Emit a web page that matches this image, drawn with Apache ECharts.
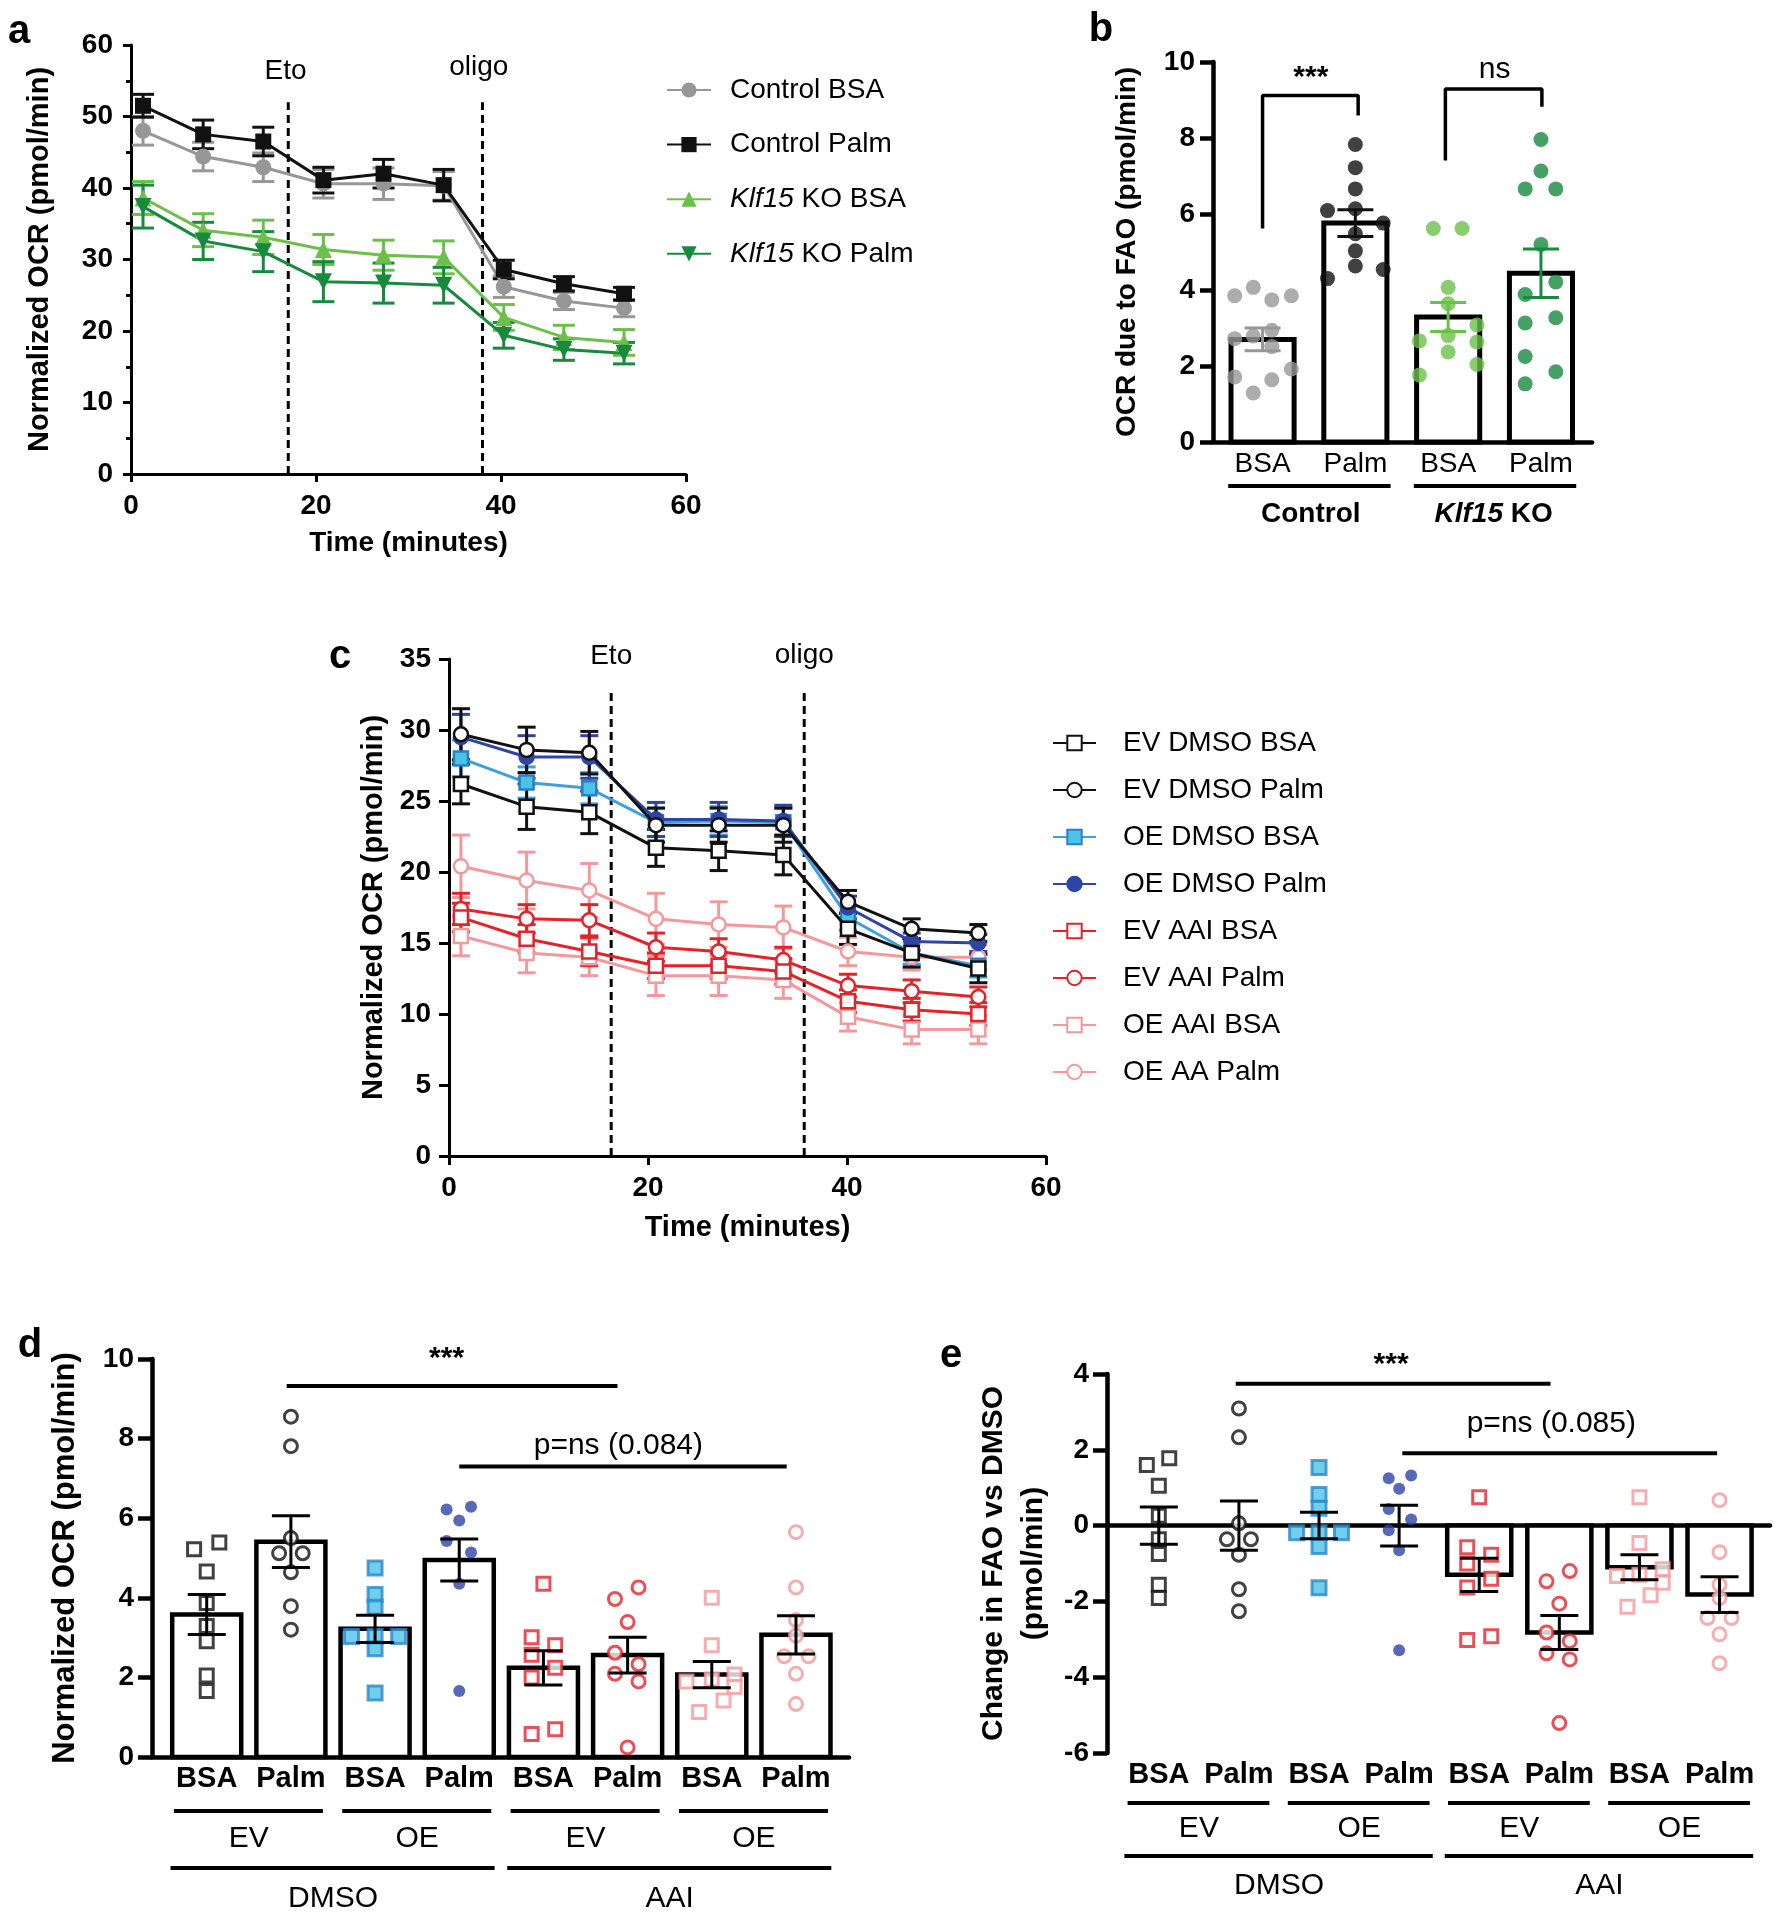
<!DOCTYPE html>
<html>
<head>
<meta charset="utf-8">
<script src="https://cdn.jsdelivr.net/npm/echarts@6/dist/echarts.min.js"></script>
<style>
  html, body { margin: 0; padding: 0; background: #fff; }
  #chart { width: 1779px; height: 1920px; }
</style>
</head>
<body>
<div id="chart"></div>
<script>
const FONT = '"Liberation Sans", Arial, Helvetica, sans-serif';

// ---------- panel a : time course ----------
const timeA = [1.3, 7.8, 14.3, 20.8, 27.3, 33.8, 40.3, 46.8, 53.3];
const aNames = ['Control BSA', 'Control Palm', 'Klf15 KO BSA', 'Klf15 KO Palm'];
const aCtrlBSA = [48.0, 44.4, 42.9, 40.6, 40.6, 40.3, 26.2, 24.2, 23.2];
const aCtrlBSAErr = [2.0, 2.0, 2.0, 2.0, 2.2, 2.0, 1.5, 1.2, 1.2];
const aCtrlPalm = [51.5, 47.5, 46.5, 41.1, 42.0, 40.4, 28.6, 26.6, 25.2];
const aCtrlPalmErr = [1.6, 2.0, 2.0, 1.8, 2.0, 2.2, 1.3, 1.0, 0.9];
const aKoBSA = [38.6, 34.1, 33.1, 31.4, 30.6, 30.3, 21.9, 19.1, 18.4];
const aKoBSAErr = [2.3, 2.3, 2.4, 2.1, 2.1, 2.3, 1.8, 1.7, 1.8];
const aKoPalm = [37.4, 32.6, 31.1, 26.9, 26.7, 26.4, 19.4, 17.4, 16.9];
const aKoPalmErr = [3.0, 2.6, 2.8, 2.8, 2.8, 2.5, 1.8, 1.5, 1.5];
const aEto = 17, aOligo = 38;

// ---------- panel b : OCR due to FAO ----------
const bCats = ['BSA', 'Palm', 'BSA', 'Palm'];
const bGroups = ['Control', 'Klf15 KO'];
const bMeans = [2.70, 5.76, 3.29, 4.44];
const bSem = [0.30, 0.35, 0.38, 0.64];
const bCtrlBSA = [3.85, 4.07, 3.74, 3.85, 2.72, 2.79, 2.94, 2.51, 1.92, 1.71, 1.64, 1.29];
const bCtrlBSAJit = [-0.30, -0.10, 0.10, 0.31, -0.30, -0.10, 0.10, 0.10, 0.31, -0.30, 0.10, -0.10];
const bCtrlPalm = [7.83, 7.22, 6.66, 6.09, 6.14, 5.76, 5.48, 5.03, 4.30, 4.63, 4.54];
const bCtrlPalmJit = [0, 0, 0, -0.30, 0, 0.30, 0, 0, -0.30, 0, 0.30];
const bKoBSA = [5.62, 5.62, 4.07, 3.64, 2.66, 2.80, 3.08, 2.63, 2.37, 2.04, 1.76];
const bKoBSAJit = [-0.16, 0.15, 0, 0, -0.31, 0, 0.31, 0.31, 0, 0.31, -0.31];
const bKoPalm = [7.96, 7.13, 6.66, 6.66, 5.20, 4.21, 3.88, 3.27, 3.13, 2.25, 1.85, 1.53];
const bKoPalmJit = [0, 0, -0.17, 0.16, 0, 0.16, -0.17, 0.16, -0.17, -0.17, 0.16, -0.17];

// ---------- panel c : time course ----------
const timeC = [1.2, 7.8, 14.1, 20.8, 27.1, 33.6, 40.1, 46.5, 53.2];
const cNames = ['EV DMSO BSA', 'EV DMSO Palm', 'OE DMSO BSA', 'OE DMSO Palm',
                'EV AAI BSA', 'EV AAI Palm', 'OE AAI BSA', 'OE AA Palm'];
const cEvDmsoBSA = [26.2, 24.6, 24.2, 21.7, 21.5, 21.2, 16.0, 14.3, 13.2];
const cEvDmsoBSAErr = [1.4, 1.6, 1.5, 1.3, 1.4, 1.4, 1.1, 1.0, 1.0];
const cEvDmsoPalm = [29.7, 28.6, 28.4, 23.3, 23.3, 23.3, 17.9, 16.0, 15.7];
const cEvDmsoPalmErr = [1.8, 1.6, 1.5, 1.2, 1.2, 1.2, 0.8, 0.7, 0.6];
const cOeDmsoBSA = [28.0, 26.3, 25.9, 23.5, 23.6, 23.5, 16.8, 14.3, 13.4];
const cOeDmsoBSAErr = [1.3, 1.1, 1.1, 1.0, 1.0, 1.0, 0.9, 0.8, 0.8];
const cOeDmsoPalm = [29.5, 28.1, 28.1, 23.7, 23.7, 23.6, 17.5, 15.1, 15.0];
const cOeDmsoPalmErr = [1.6, 1.5, 1.5, 1.2, 1.2, 1.1, 0.8, 0.6, 0.6];
const cEvAaiBSA = [16.8, 15.3, 14.4, 13.4, 13.4, 13.0, 10.9, 10.3, 10.0];
const cEvAaiBSAErr = [1.0, 1.0, 1.0, 0.9, 0.9, 0.9, 0.8, 0.8, 0.8];
const cEvAaiPalm = [17.4, 16.7, 16.6, 14.7, 14.4, 13.8, 12.0, 11.6, 11.2];
const cEvAaiPalmErr = [1.1, 1.0, 1.1, 1.0, 0.9, 0.9, 0.8, 0.8, 0.7];
const cOeAaiBSA = [15.5, 14.3, 14.0, 12.7, 12.7, 12.4, 9.8, 8.9, 8.9];
const cOeAaiBSAErr = [1.4, 1.4, 1.3, 1.4, 1.4, 1.3, 1.0, 1.0, 1.0];
const cOeAaPalm = [20.4, 19.4, 18.7, 16.7, 16.3, 16.1, 14.4, 14.0, 14.0];
const cOeAaPalmErr = [2.2, 2.0, 1.9, 1.8, 1.6, 1.5, 1.0, 0.9, 0.9];
const cEto = 16.3, cOligo = 35.7;

// ---------- panels d, e : bar + dots ----------
const deCats = ['BSA', 'Palm', 'BSA', 'Palm', 'BSA', 'Palm', 'BSA', 'Palm'];
const deSub = ['EV', 'OE', 'EV', 'OE'];
const deTop = ['DMSO', 'AAI'];

const dMeans = [3.58, 5.41, 3.22, 4.95, 2.24, 2.56, 2.07, 3.07];
const dSem = [0.50, 0.65, 0.34, 0.53, 0.43, 0.45, 0.33, 0.48];
const dPts = [
  [5.22, 5.39, 4.66, 3.87, 3.29, 2.91, 2.05, 1.66],
  [8.55, 7.81, 5.12, 5.12, 5.50, 4.64, 3.79, 3.20],
  [4.75, 4.08, 3.76, 3.03, 3.03, 3.03, 2.72, 1.61],
  [6.22, 6.29, 5.94, 5.43, 5.14, 4.35, 1.66],
  [4.35, 3.01, 2.81, 2.57, 2.24, 2.00, 0.70, 0.58],
  [3.97, 4.26, 3.39, 2.62, 2.09, 2.33, 1.90, 0.24],
  [4.00, 2.81, 1.95, 1.90, 2.07, 1.76, 1.42, 1.13],
  [5.65, 4.26, 3.44, 3.05, 2.53, 2.53, 2.09, 1.33]
];
const dJit = [
  [-0.15, 0.15, 0, 0, 0, 0, 0, 0],
  [0, 0, -0.14, 0.14, 0, 0, 0, 0],
  [0, 0, 0, -0.28, 0, 0.28, 0, 0],
  [-0.15, 0.14, 0, -0.15, 0.14, 0, 0],
  [0, -0.14, 0.14, -0.14, 0.14, -0.14, 0.14, -0.14],
  [-0.15, 0.13, 0, -0.15, -0.15, 0.13, 0.13, 0],
  [0, 0, 0, -0.30, 0.27, 0.27, 0.14, -0.15],
  [0, 0, 0, 0, -0.14, 0.15, 0, 0]
];

const eMeans = [0, 0, 0, 0, -1.30, -2.82, -1.10, -1.82];
const eSem = [0.49, 0.65, 0.35, 0.54, 0.44, 0.45, 0.33, 0.47];
const ePts = [
  [1.60, 1.78, 1.05, 0.26, -0.36, -0.75, -1.56, -1.91],
  [3.09, 2.33, 0.06, -0.36, -0.36, -0.77, -1.68, -2.26],
  [1.53, 0.82, 0.46, -0.19, -0.19, -0.19, -0.55, -1.64],
  [1.25, 1.32, 0.97, 0.44, 0.16, -0.12, -0.65, -3.29],
  [0.75, -0.57, -0.77, -1.00, -1.40, -1.63, -3.02, -2.92],
  [-1.47, -1.20, -2.06, -2.82, -3.05, -3.37, -3.53, -5.21],
  [0.75, -0.46, -1.33, -1.30, -1.15, -1.51, -1.84, -2.14],
  [0.67, -0.70, -1.56, -1.91, -2.44, -2.44, -2.87, -3.63]
];
const eJit = [
  [-0.15, 0.13, 0, 0, 0, 0, 0, 0],
  [0, 0, 0, -0.15, 0.15, 0, 0, 0],
  [0, 0, 0, -0.28, 0, 0.28, 0, 0],
  [-0.13, 0.15, 0, -0.13, 0.15, -0.13, 0, 0],
  [0, -0.15, 0.15, -0.15, 0.15, -0.15, -0.15, 0.15],
  [-0.16, 0.13, 0, -0.16, 0.13, -0.16, 0.13, 0],
  [0, 0, -0.28, 0, 0.29, 0.29, 0.14, -0.15],
  [0, 0, 0, 0, -0.15, 0.15, 0, 0]
];

// colours
const GREY = '#979797', BLACK = '#111111', LGREEN = '#6cc04a', DGREEN = '#178a3e';
const LBLUE = '#3d9fdc', LBLUE_FILL = '#4cc3e6', DBLUE = '#2e44a6', RED = '#e3232b', PINK = '#f4999b';

const chart = echarts.init(document.getElementById('chart'));

function axis(gi, o, tickLen, lineW, titleSize) {
  const base = {
    gridIndex: gi, type: 'value',
    axisLine: { show: true, onZero: false, lineStyle: { color: '#000', width: lineW || 3 } },
    axisTick: { show: true, length: tickLen || 8, lineStyle: { color: '#000', width: lineW || 3 } },
    axisLabel: { show: true, color: '#000', fontFamily: FONT, fontSize: 28, fontWeight: 'bold', margin: 18 },
    splitLine: { show: false },
    nameLocation: 'middle',
    nameTextStyle: { color: '#000', fontFamily: FONT, fontSize: titleSize || 28, fontWeight: 'bold' }
  };
  return Object.assign(base, o);
}
const noTicks = { show: false };

function errSeries(gi, xs, means, errs, color, cap, lw, z) {
  return {
    type: 'custom', xAxisIndex: gi, yAxisIndex: gi, z: z || 5, silent: true,
    encode: { x: 0, y: 1 },
    data: xs.map((x, i) => [x, means[i], errs[i]]),
    renderItem(params, api) {
      const x = api.value(0), m = api.value(1), e = api.value(2);
      const t = api.coord([x, m + e]), b = api.coord([x, m - e]);
      const h = cap / 2;
      const st = { stroke: color, lineWidth: lw };
      return { type: 'group', children: [
        { type: 'line', shape: { x1: t[0], y1: t[1], x2: b[0], y2: b[1] }, style: st },
        { type: 'line', shape: { x1: t[0] - h, y1: t[1], x2: t[0] + h, y2: t[1] }, style: st },
        { type: 'line', shape: { x1: b[0] - h, y1: b[1], x2: b[0] + h, y2: b[1] }, style: st }
      ] };
    }
  };
}

function barSeries(gi, means, wUnits, lw) {
  return {
    type: 'custom', xAxisIndex: gi, yAxisIndex: gi, z: 2, silent: true,
    encode: { x: 0, y: 1 },
    data: means.map((m, i) => [i, m]),
    renderItem(params, api) {
      const x = api.value(0), v = api.value(1);
      if (v === 0) return null;
      const p0 = api.coord([x - wUnits / 2, 0]);
      const p1 = api.coord([x + wUnits / 2, v]);
      return { type: 'rect',
        shape: { x: p0[0], y: Math.min(p0[1], p1[1]), width: p1[0] - p0[0], height: Math.abs(p1[1] - p0[1]) },
        style: { fill: '#fff', stroke: '#000', lineWidth: lw } };
    }
  };
}

function textSeries(gi, items, style) {
  return {
    type: 'custom', xAxisIndex: gi, yAxisIndex: gi, z: 6, silent: true, clip: false,
    encode: { x: 0, y: 1 },
    data: items.map(it => [it.x, it.y]),
    renderItem(params, api) {
      const p = api.coord([api.value(0), api.value(1)]);
      const it = items[params.dataIndex];
      return { type: 'text', x: p[0], y: p[1],
        style: Object.assign({ text: it.text, align: 'center', verticalAlign: it.va || 'middle',
          fill: '#000', fontFamily: FONT, fontSize: 28, fontWeight: it.bold ? 'bold' : 'normal' }, style) };
    }
  };
}

function pathSeries(gi, pts, width, dashed) {
  return {
    type: 'line', xAxisIndex: gi, yAxisIndex: gi, z: 3, silent: true, clip: false,
    symbol: 'none', data: pts,
    lineStyle: { color: '#000', width: width, type: dashed ? [8, 5] : 'solid' }
  };
}

function dots(gi, cat, vals, jit, symbol, size, itemStyle) {
  return {
    type: 'scatter', xAxisIndex: gi, yAxisIndex: gi, z: 4, silent: true,
    symbol: symbol, symbolSize: size, itemStyle: itemStyle,
    data: vals.map((v, i) => [cat + jit[i], v])
  };
}

// ---- panel a series ----
const aSpec = [
  { vals: aCtrlBSA, err: aCtrlBSAErr, color: GREY, symbol: 'circle', size: 16 },
  { vals: aCtrlPalm, err: aCtrlPalmErr, color: BLACK, symbol: 'rect', size: 16 },
  { vals: aKoBSA, err: aKoBSAErr, color: LGREEN, symbol: 'triangle', size: 17 },
  { vals: aKoPalm, err: aKoPalmErr, color: DGREEN, symbol: 'triangle', size: 17, rotate: 180 }
];
const series = [];
aSpec.forEach((s, k) => {
  series.push(errSeries(0, timeA, s.vals, s.err, s.color, 22, 3, 3));
  series.push({
    type: 'line', name: aNames[k], xAxisIndex: 0, yAxisIndex: 0, z: 4,
    data: timeA.map((t, i) => [t, s.vals[i]]),
    symbol: s.symbol, symbolSize: s.size, symbolRotate: s.rotate || 0,
    lineStyle: { color: s.color, width: 3 }, itemStyle: { color: s.color }
  });
});
series.push(pathSeries(0, [[aEto, 0], [aEto, 52]], 3, true));
series.push(pathSeries(0, [[aOligo, 0], [aOligo, 52]], 3, true));
series.push(textSeries(0, [
  { x: 16.7, y: 54.3, text: 'Eto', va: 'bottom' },
  { x: 37.6, y: 54.9, text: 'oligo', va: 'bottom' }
]));

// ---- panel b series ----
series.push(barSeries(1, bMeans, 0.68, 5));
const bSets = [
  [bCtrlBSA, bCtrlBSAJit, GREY], [bCtrlPalm, bCtrlPalmJit, BLACK],
  [bKoBSA, bKoBSAJit, LGREEN], [bKoPalm, bKoPalmJit, DGREEN]
];
bSets.forEach((s, i) => {
  series.push(dots(1, i, s[0], s[1], 'circle', 15, { color: s[2] }));
  series.push(errSeries(1, [i], [bMeans[i]], [bSem[i]], s[2], 36, 3, 5));
});
series.push(pathSeries(1, [[0, 5.62], [0, 9.12], [1.03, 9.12], [1.03, 8.59]], 3.5));
series.push(pathSeries(1, [[1.97, 7.41], [1.97, 9.29], [3.01, 9.29], [3.01, 8.82]], 3.5));
series.push(textSeries(1, [
  { x: 0.52, y: 9.58, text: '***', bold: true },
  { x: 2.50, y: 9.80, text: 'ns' }
], { fontSize: 30 }));

// ---- panel c series ----
const cSpec = [
  { vals: cEvDmsoBSA, err: cEvDmsoBSAErr, line: BLACK, symbol: 'rect', fill: '#fff', border: BLACK },
  { vals: cEvDmsoPalm, err: cEvDmsoPalmErr, line: BLACK, symbol: 'circle', fill: '#fff', border: BLACK },
  { vals: cOeDmsoBSA, err: cOeDmsoBSAErr, line: LBLUE, symbol: 'rect', fill: LBLUE_FILL, border: '#2b7fc4' },
  { vals: cOeDmsoPalm, err: cOeDmsoPalmErr, line: DBLUE, symbol: 'circle', fill: DBLUE, border: DBLUE },
  { vals: cEvAaiBSA, err: cEvAaiBSAErr, line: RED, symbol: 'rect', fill: '#fff', border: RED },
  { vals: cEvAaiPalm, err: cEvAaiPalmErr, line: RED, symbol: 'circle', fill: '#fff', border: RED },
  { vals: cOeAaiBSA, err: cOeAaiBSAErr, line: PINK, symbol: 'rect', fill: '#fff', border: PINK },
  { vals: cOeAaPalm, err: cOeAaPalmErr, line: PINK, symbol: 'circle', fill: '#fff', border: PINK }
];
const drawOrder = [7, 6, 5, 4, 2, 3, 0, 1];
drawOrder.forEach((k, n) => {
  const s = cSpec[k];
  series.push(errSeries(2, timeC, s.vals, s.err, s.line, 18, 3, 3 + n * 0.01));
  series.push({
    type: 'line', name: cNames[k], xAxisIndex: 2, yAxisIndex: 2, z: 4 + n * 0.01,
    data: timeC.map((t, i) => [t, s.vals[i]]),
    symbol: s.symbol, symbolSize: 14,
    lineStyle: { color: s.line, width: 3 },
    itemStyle: { color: s.fill, borderColor: s.border, borderWidth: 2.5 }
  });
});
series.push(pathSeries(2, [[cEto, 0], [cEto, 32.9]], 3, true));
series.push(pathSeries(2, [[cOligo, 0], [cOligo, 32.9]], 3, true));
series.push(textSeries(2, [
  { x: cEto, y: 34.2, text: 'Eto', va: 'bottom' },
  { x: cOligo, y: 34.3, text: 'oligo', va: 'bottom' }
]));

// ---- panels d and e dot styles ----
const deStyle = [
  { symbol: 'rect', size: 13, st: { color: '#fff', borderColor: BLACK, borderWidth: 3 } },
  { symbol: 'circle', size: 13, st: { color: '#fff', borderColor: BLACK, borderWidth: 3 } },
  { symbol: 'rect', size: 14, st: { color: LBLUE_FILL, borderColor: '#2b87c9', borderWidth: 3 } },
  { symbol: 'circle', size: 12, st: { color: DBLUE } },
  { symbol: 'rect', size: 13, st: { color: '#fff', borderColor: RED, borderWidth: 3 } },
  { symbol: 'circle', size: 13, st: { color: '#fff', borderColor: RED, borderWidth: 3 } },
  { symbol: 'rect', size: 13, st: { color: '#fff', borderColor: PINK, borderWidth: 3 } },
  { symbol: 'circle', size: 13, st: { color: '#fff', borderColor: PINK, borderWidth: 3 } }
];

series.push(barSeries(3, dMeans, 0.82, 4.5));
dPts.forEach((vals, i) => {
  series.push(dots(3, i, vals, dJit[i], deStyle[i].symbol, deStyle[i].size, deStyle[i].st));
});
series.push(errSeries(3, dMeans.map((m, i) => i), dMeans, dSem, '#000', 38, 3, 6));
series.push(pathSeries(3, [[0.95, 9.32], [4.88, 9.32]], 4));
series.push(pathSeries(3, [[3.0, 7.30], [6.89, 7.30]], 4));
series.push(textSeries(3, [
  { x: 2.85, y: 10.0, text: '***', bold: true },
  { x: 4.89, y: 7.81, text: 'p=ns (0.084)' }
], { fontSize: 30 }));

series.push(barSeries(4, eMeans, 0.80, 4.5));
ePts.forEach((vals, i) => {
  series.push(dots(4, i, vals, eJit[i], deStyle[i].symbol, deStyle[i].size, deStyle[i].st));
});
series.push(errSeries(4, eMeans.map((m, i) => i), eMeans, eSem, '#000', 38, 3, 6));
series.push(pathSeries(4, [[0.96, 3.74], [4.89, 3.74]], 4));
series.push(pathSeries(4, [[3.04, 1.91], [6.97, 1.91]], 4));
series.push(textSeries(4, [
  { x: 2.9, y: 4.25, text: '***', bold: true },
  { x: 4.9, y: 2.69, text: 'p=ns (0.085)' }
], { fontSize: 30 }));

const legendText = {
  fontFamily: FONT, fontSize: 28, color: '#000', lineHeight: 30, padding: [0, 0, 0, 14],
  rich: { i: { fontStyle: 'italic', fontFamily: FONT, fontSize: 28, color: '#000', lineHeight: 30 } }
};

const barAxisHidden = (gi, min, max, onZero) => axis(gi, {
  min: min, max: max, axisTick: noTicks, axisLabel: { show: false },
  axisLine: { show: true, onZero: onZero, lineStyle: { color: '#000', width: 4.5 } }
});

const option = {
  animation: false,
  backgroundColor: '#fff',
  textStyle: { fontFamily: FONT },
  grid: [
    { left: 131, top: 45, width: 555, height: 429, outerBoundsMode: 'none' },
    { left: 1213, top: 62, width: 379, height: 380, outerBoundsMode: 'none' },
    { left: 449, top: 659, width: 597, height: 497, outerBoundsMode: 'none' },
    { left: 152, top: 1359, width: 697, height: 398, outerBoundsMode: 'none' },
    { left: 1107, top: 1374, width: 663, height: 379, outerBoundsMode: 'none' }
  ],
  xAxis: [
    axis(0, { min: 0, max: 60, interval: 20, name: 'Time (minutes)', nameGap: 55 }, 8, 3, 28),
    barAxisHidden(1, -0.534, 3.55, false),
    axis(2, { min: 0, max: 60, interval: 20, name: 'Time (minutes)', nameGap: 57 }, 9, 3, 29),
    barAxisHidden(3, -0.65, 7.63, false),
    barAxisHidden(4, -0.647, 7.63, true)
  ],
  yAxis: [
    axis(0, { min: 0, max: 60, interval: 10, name: 'Normalized OCR (pmol/min)', nameGap: 77,
      minorTick: { show: true, splitNumber: 2, length: 5, lineStyle: { color: '#000', width: 3 } } }, 8, 3, 29),
    axis(1, { min: 0, max: 10, interval: 2, name: 'OCR due to FAO (pmol/min)', nameGap: 72 }, 13, 4.5, 28),
    axis(2, { min: 0, max: 35, interval: 5, name: 'Normalized OCR (pmol/min)', nameGap: 61 }, 10, 3, 29),
    axis(3, { min: 0, max: 10, interval: 2, name: 'Normalized OCR (pmol/min)', nameGap: 71 }, 14, 4.5, 31),
    axis(4, { min: -6, max: 4, interval: 2, name: 'Change in FAO vs DMSO\n(pmol/min)', nameGap: 53 }, 14, 4.5, 30)
  ],
  legend: [
    { data: aNames, left: 661, top: 70, orient: 'vertical', itemWidth: 44, itemHeight: 19, itemGap: 24.6,
      selectedMode: false, textStyle: legendText,
      formatter: n => n.startsWith('Klf15') ? '{i|Klf15}' + n.slice(5) : n },
    { data: cNames, left: 1047, top: 723, orient: 'vertical', itemWidth: 43, itemHeight: 18, itemGap: 17,
      selectedMode: false, textStyle: Object.assign({}, legendText, { padding: [0, 0, 0, 22] }) }
  ],
  series: series
};
option.yAxis[4].nameTextStyle.lineHeight = 40;

chart.setOption(option);

// ---- text and rules under the bar panels, placed from the axis scales ----
const gx = (gi, v) => chart.convertToPixel({ xAxisIndex: gi }, v);
const G = [];
function addText(x, y, text, size, weight, extra) {
  G.push({ type: 'text', x: x, y: y, silent: true,
    style: Object.assign({ text: text, fontSize: size, fontWeight: weight || 'normal', fontFamily: FONT,
      fill: '#000', align: 'center', verticalAlign: 'middle' }, extra || {}) });
}
function addRule(x1, x2, y, w) {
  G.push({ type: 'line', silent: true, shape: { x1: x1, y1: y, x2: x2, y2: y },
    style: { stroke: '#000', lineWidth: w || 4 } });
}

// panel letters
addText(19, 32, 'a', 40, 'bold');
addText(1101, 30, 'b', 40, 'bold');
addText(340, 657, 'c', 40, 'bold');
addText(30, 1346, 'd', 40, 'bold');
addText(951, 1356, 'e', 40, 'bold');

// panel b
bCats.forEach((c, i) => addText(gx(1, i), 464, c, 28));
addRule(gx(1, -0.37), gx(1, 1.38), 486);
addRule(gx(1, 1.63), gx(1, 3.38), 486);
addText(gx(1, 0.52), 514, bGroups[0], 28, 'bold');
addText(gx(1, 2.49), 514, '{i|Klf15} KO', 28, 'bold',
  { rich: { i: { fontStyle: 'italic', fontWeight: 'bold', fontSize: 28, fontFamily: FONT } } });

// panels d and e
function underLabels(gi, yCat, yR1, ySub, yR2, yTop) {
  deCats.forEach((c, i) => addText(gx(gi, i), yCat, c, 29, 'bold'));
  deSub.forEach((s, k) => {
    addRule(gx(gi, 2 * k - 0.39), gx(gi, 2 * k + 1.38), yR1);
    addText(gx(gi, 2 * k + 0.5), ySub, s, 30);
  });
  deTop.forEach((s, k) => {
    addRule(gx(gi, 4 * k - 0.43), gx(gi, 4 * k + 3.42), yR2);
    addText(gx(gi, 4 * k + 1.5), yTop, s, 30);
  });
}
underLabels(3, 1779, 1811, 1839, 1868, 1899);
underLabels(4, 1775, 1803, 1829, 1856, 1886);

chart.setOption({ graphic: G });
</script>
</body>
</html>
